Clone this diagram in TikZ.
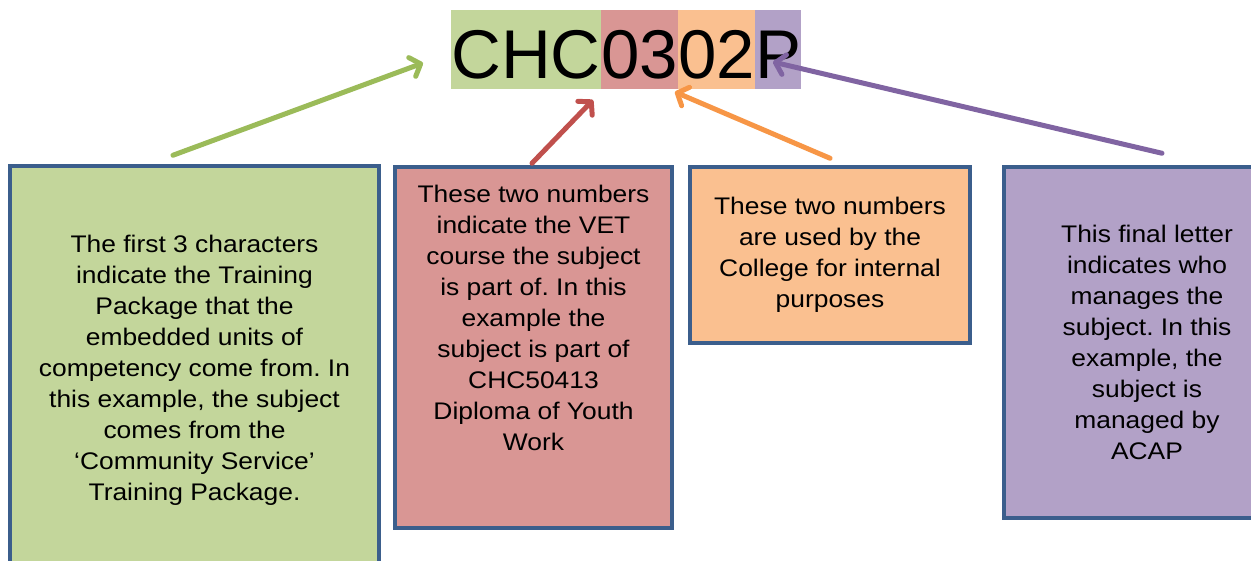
\documentclass[tikz,border=0pt]{standalone}
\usepackage{fontspec}
\setmainfont{Liberation Sans}
\newfontfamily\notefont{Liberation Sans}[FakeStretch=1.1]
\usetikzlibrary{positioning,arrows.meta}
\frenchspacing
\definecolor{codegreen}{RGB}{195,214,155}
\definecolor{codered}{RGB}{217,150,148}
\definecolor{codeorange}{RGB}{250,192,144}
\definecolor{codepurple}{RGB}{178,161,199}
\definecolor{arrowgreen}{RGB}{155,187,89}
\definecolor{arrowred}{RGB}{192,80,77}
\definecolor{arroworange}{RGB}{247,150,70}
\definecolor{arrowpurple}{RGB}{128,100,162}
\definecolor{boxblue}{RGB}{59,94,140}

\begin{document}
\begin{tikzpicture}[x=1pt,y=-1pt,
  segment/.style={inner xsep=0pt,inner ysep=0pt,text height=68pt,text depth=11pt,
    font=\fontsize{69}{69}\selectfont},
  notetext/.style={inner sep=0pt,align=center,font=\notefont\fontsize{24}{31}\selectfont},
  notebox/.style={notetext,draw=boxblue,line width=3.5pt},
  pointer/.style={line width=5pt,line cap=round,
    -{Straight Barb[length=9pt,width=20pt,round]}}]
\useasboundingbox (0,0) rectangle (1251,561);

% Subject code
\node[segment,fill=codegreen,anchor=north west] (chc) at (451,10) {CHC};
\node[segment,fill=codered,right=0pt of chc] (vet) {03};
\node[segment,fill=codeorange,right=0pt of vet] (inr) {02};
\node[segment,fill=codepurple,right=0pt of inr] (mgr) {P};

% Explanation boxes
\node[notebox,fill=codegreen,minimum width=369pt,minimum height=409pt] (gbox) at (194.5,370.5)
  {The first 3 characters\\indicate the Training\\Package that the\\embedded units of\\competency come from. In\\this example, the subject\\comes from the\\‘Community Service’\\Training Package.};
\node[notebox,fill=codered,minimum width=277pt,minimum height=361pt] (rbox) at (533.5,347.5) {};
\node[notetext,below=20pt of rbox.north] (rtext)
  {These two numbers\\indicate the VET\\course the subject\\is part of. In this\\example the\\subject is part of\\CHC50413\\Diploma of Youth\\Work};
\node[notebox,fill=codeorange,minimum width=280pt,minimum height=176pt] (obox) at (830,255)
  {These two numbers\\are used by the\\College for internal\\purposes};
\node[notebox,fill=codepurple,minimum width=286pt,minimum height=351pt] (pbox) at (1147,342.5)
  {This final letter\\indicates who\\manages the\\subject. In this\\example, the\\subject is\\managed by\\ACAP};

% Arrow tips
\coordinate (gtip) at (423,63);
\coordinate (rtip) at (593,100);
\coordinate (otip) at (675,92);
\coordinate (ptip) at (773,62);

% Pointers
\draw[pointer,arrowgreen] ([xshift=-21.5pt,yshift=9pt]gbox.north) -- (gtip);
\draw[pointer,arrowred] ([xshift=-1.5pt,yshift=2pt]rbox.north) -- (rtip);
\draw[pointer,arroworange] ([yshift=7pt]obox.north) -- (otip);
\draw[pointer,arrowpurple] ([xshift=15pt,yshift=12pt]pbox.north) -- (ptip);
\end{tikzpicture}
\end{document}
